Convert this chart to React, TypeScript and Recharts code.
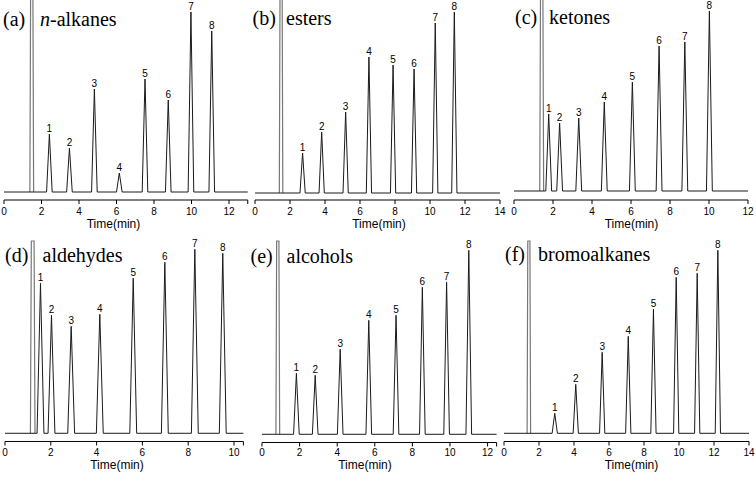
// Six GC chromatograms (a)-(f) laid out in a 2x3 grid, one LineChart per panel.

import { LineChart, Line, XAxis, YAxis, LabelList } from "recharts";

const SANS = "Liberation Sans, Arial, sans-serif";
const SERIF = "Liberation Serif, Times New Roman, serif";

// retention times (min) and peak heights (arbitrary units) for compounds 1-8
const alkaneTimes = [2.42, 3.49, 4.82, 6.15, 7.52, 8.76, 9.97, 11.08];
const alkaneHeights = [58, 44, 103, 19, 113, 92, 180, 161];

const esterTimes = [2.72, 3.81, 5.18, 6.51, 7.89, 9.09, 10.3, 11.39];
const esterHeights = [40, 61, 81, 136, 128, 124, 170, 181];

const ketoneTimes = [1.78, 2.34, 3.32, 4.63, 6.07, 7.44, 8.76, 10.02];
const ketoneHeights = [77, 68, 73, 89, 109, 145, 149, 180];

const aldehydeTimes = [1.55, 2.03, 2.89, 4.14, 5.6, 6.98, 8.29, 9.51];
const aldehydeHeights = [150, 118, 107, 119, 155, 171, 184, 180];

const alcoholTimes = [1.83, 2.83, 4.16, 5.68, 7.13, 8.53, 9.82, 11.0];
const alcoholHeights = [61, 59, 85, 114, 119, 147, 152, 184];

const bromoTimes = [2.9, 4.1, 5.61, 7.1, 8.54, 9.84, 11.04, 12.22];
const bromoHeights = [20, 49, 81, 97, 124, 156, 160, 183];

// solvent peak retention time for each panel (a..f)
const solventTimes = [1.48, 1.49, 1.42, 1.21, 0.84, 1.42];

const tickSets = [
  [0, 2, 4, 6, 8, 10, 12],
  [0, 2, 4, 6, 8, 10, 12, 14],
  [0, 2, 4, 6, 8, 10, 12],
  [0, 2, 4, 6, 8, 10],
  [0, 2, 4, 6, 8, 10, 12],
  [0, 2, 4, 6, 8, 10, 12, 14],
];

const ML = 12;
const MR = 12;
const MT = 14;
const AXIS_H = 28;
const HALF = 0.15;

type Pt = { t: number; v: number; num?: string };

function buildTrace(times: number[], heights: number[], end: number): Pt[] {
  const pts: Pt[] = [{ t: 0, v: 0 }];
  times.forEach((t, i) => {
    pts.push({ t: t - HALF, v: 0 });
    pts.push({ t, v: heights[i], num: String(i + 1) });
    pts.push({ t: t + HALF, v: 0 });
  });
  pts.push({ t: end, v: 0 });
  return pts;
}

function buildSolvent(t: number, top: number): Pt[] {
  return [
    { t: t - 0.1, v: 0 },
    { t: t - 0.06, v: top },
    { t: t + 0.06, v: top },
    { t: t + 0.1, v: 0 },
  ];
}

const panels = [
  { times: alkaneTimes, heights: alkaneHeights, x0: 4, ppm: 18.75, end: 13, plotTop: -12, axisY: 200, base: 192, tm: 4 },
  { times: esterTimes, heights: esterHeights, x0: 255, ppm: 17.5, end: 14, plotTop: -12, axisY: 200, base: 193, tm: 4 },
  { times: ketoneTimes, heights: ketoneHeights, x0: 514.3, ppm: 19.5, end: 12, plotTop: -12, axisY: 200, base: 191, tm: 4 },
  { times: aldehydeTimes, heights: aldehydeHeights, x0: 4.5, ppm: 22.9, end: 10.41, plotTop: 241, axisY: 441.5, base: 433.3, tm: 3 },
  { times: alcoholTimes, heights: alcoholHeights, x0: 262, ppm: 18.8, end: 12.48, plotTop: 241, axisY: 442.5, base: 434.3, tm: 2 },
  { times: bromoTimes, heights: bromoHeights, x0: 503.5, ppm: 17.5, end: 14, plotTop: 241, axisY: 441.5, base: 433.3, tm: 3 },
];

const titles = [
  { tag: "(a)", tx: 3, nx: 40, y: 26 },
  { tag: "(b)", tx: 252.5, nx: 286, y: 25 },
  { tag: "(c)", tx: 515, nx: 549, y: 24 },
  { tag: "(d)", tx: 5, nx: 42.5, y: 262 },
  { tag: "(e)", tx: 250.5, nx: 286.5, y: 263 },
  { tag: "(f)", tx: 505, nx: 538, y: 261 },
];
const names = ["alkanes", "esters", "ketones", "aldehydes", "alcohols", "bromoalkanes"];

// where the "Time(min)" caption of each panel sits
const axisTitles = [
  { x: 113.5, y: 228 },
  { x: 379, y: 228 },
  { x: 631.5, y: 228 },
  { x: 117, y: 469 },
  { x: 365, y: 469 },
  { x: 631.5, y: 469 },
];

const renderPeakLabel = (props: any) => {
  const { x, y, value } = props;
  if (value === undefined || value === null || value === "") return null;
  return (
    <text x={x} y={y - 2.5} textAnchor="middle" fontSize={10} fontFamily={SANS} fill="#000">
      {value}
    </text>
  );
};

function Panel({ idx }: { idx: number }) {
  const p = panels[idx];
  const plotW = p.ppm * p.end;
  const plotH = p.axisY - p.plotTop;
  const yMin = -(p.axisY - p.base);
  const yMax = p.base - p.plotTop;
  const trace = buildTrace(p.times, p.heights, p.end);
  const solvent = buildSolvent(solventTimes[idx], yMax);
  const ticks = [...tickSets[idx]];
  if (ticks[ticks.length - 1] !== p.end) ticks.push(p.end);

  return (
    <div style={{ position: "absolute", left: p.x0 - ML, top: p.plotTop - MT }}>
      <LineChart
        width={ML + plotW + MR}
        height={MT + plotH + AXIS_H}
        margin={{ top: MT, right: MR, bottom: 0, left: ML }}
      >
        <XAxis
          type="number"
          dataKey="t"
          domain={[0, p.end]}
          ticks={ticks}
          interval={0}
          height={AXIS_H}
          tickSize={4}
          tickMargin={p.tm}
          axisLine={{ stroke: "#000", strokeWidth: 1 }}
          tickLine={{ stroke: "#000", strokeWidth: 1 }}
          tick={{ fontSize: 10, fill: "#000", fontFamily: SANS }}
          tickFormatter={(v: number) => (tickSets[idx].includes(v) ? String(v) : "")}
        />
        <YAxis hide type="number" domain={[yMin, yMax]} />
        <Line
          data={solvent}
          dataKey="v"
          type="linear"
          stroke="#777"
          strokeWidth={1.2}
          dot={false}
          isAnimationActive={false}
        />
        <Line
          data={trace}
          dataKey="v"
          type="linear"
          stroke="#1a1a1a"
          strokeWidth={1}
          dot={false}
          isAnimationActive={false}
        >
          <LabelList dataKey="num" content={renderPeakLabel} />
        </Line>
      </LineChart>
    </div>
  );
}

export default function App() {
  return (
    <div
      style={{
        position: "absolute",
        left: 0,
        top: 0,
        width: 756,
        height: 481,
        overflow: "hidden",
        background: "#fff",
      }}
    >
      {panels.map((_, i) => (
        <Panel key={i} idx={i} />
      ))}
      <svg
        width={756}
        height={481}
        style={{ position: "absolute", left: 0, top: 0, pointerEvents: "none" }}
      >
        {titles.map((tt, i) => (
          <g key={i} fontFamily={SERIF} fontSize={20} fill="#000">
            <text x={tt.tx} y={tt.y}>{tt.tag}</text>
            <text x={tt.nx} y={tt.y}>
              {i === 0 ? (
                <>
                  <tspan fontStyle="italic">n</tspan>-{names[i]}
                </>
              ) : (
                names[i]
              )}
            </text>
          </g>
        ))}
        {axisTitles.map((a, i) => (
          <text key={i} x={a.x} y={a.y} textAnchor="middle" fontSize={12} fontFamily={SANS} fill="#000">
            Time(min)
          </text>
        ))}
      </svg>
    </div>
  );
}
